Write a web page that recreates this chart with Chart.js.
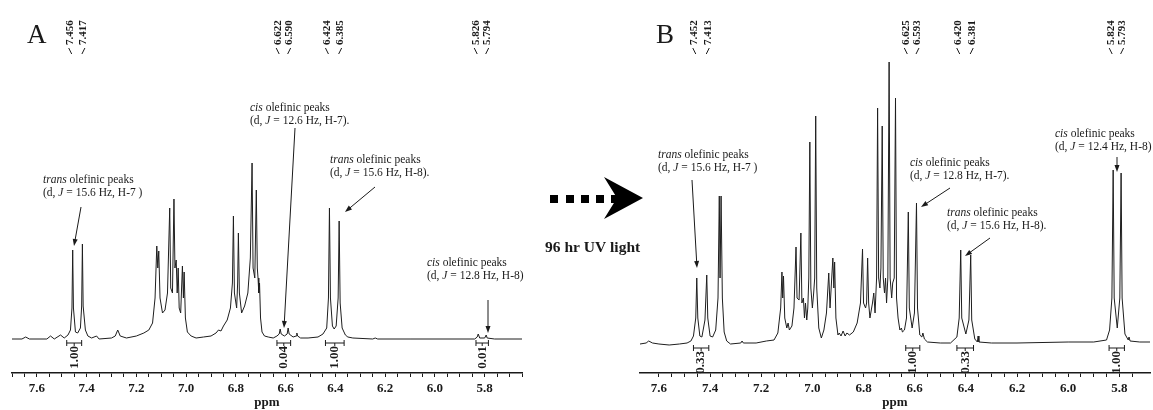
<!DOCTYPE html>
<html>
<head>
<meta charset="utf-8">
<script src="https://cdn.jsdelivr.net/npm/chart.js@4.4.0/dist/chart.umd.min.js"></script>
<style>
  html, body { margin: 0; padding: 0; background: #fff; }
  #wrap { position: relative; width: 1153px; height: 410px; overflow: hidden; }
  canvas { position: absolute; top: 0; }
  #cA { left: 0; }
  #cB { left: 540px; }
</style>
</head>
<body>
<div id="wrap">
  <canvas id="cA" width="540" height="410"></canvas>
  <canvas id="cB" width="613" height="410"></canvas>
</div>
<script>
// 1H NMR spectra, [ppm, intensity]
var spectrumA = [
  [7.70,-1],[7.66,-1],[7.645,1],[7.63,-1],[7.56,-1],[7.545,2],[7.53,-1],[7.505,3],[7.49,0],[7.475,3],
  [7.465,8],[7.459,30],[7.456,88],[7.453,30],[7.445,6],[7.436,5],[7.425,10],[7.420,32],[7.417,94],[7.414,32],
  [7.405,8],[7.395,2],[7.38,0],[7.36,2],[7.35,-1],[7.30,0],[7.285,2],[7.275,8],[7.265,2],[7.24,0],
  [7.20,2],[7.17,5],[7.15,8],[7.135,15],[7.125,40],[7.118,92],[7.114,70],[7.110,87],[7.105,40],[7.095,25],
  [7.085,28],[7.075,45],[7.066,130],[7.062,50],[7.055,45],[7.049,139],[7.045,70],[7.040,78],[7.036,45],[7.032,70],
  [7.028,30],[7.022,25],[7.015,72],[7.011,40],[7.008,66],[7.003,20],[6.995,6],[6.98,2],[6.96,0],[6.93,1],
  [6.90,2],[6.88,5],[6.87,8],[6.86,7],[6.85,12],[6.835,18],[6.822,30],[6.814,55],[6.810,122],[6.806,45],
  [6.797,30],[6.793,55],[6.790,105],[6.786,45],[6.777,25],[6.765,32],[6.752,45],[6.742,80],[6.735,175],[6.731,70],
  [6.724,60],[6.718,148],[6.714,70],[6.711,60],[6.708,45],[6.705,55],[6.701,20],[6.695,6],[6.685,2],[6.67,1],
  [6.65,0],[6.635,2],[6.626,4],[6.622,9],[6.618,4],[6.605,2],[6.594,4],[6.590,10],[6.586,4],[6.57,1],
  [6.558,2],[6.555,5],[6.552,2],[6.54,0],[6.51,0],[6.47,1],[6.45,4],[6.435,10],[6.428,40],[6.424,130],
  [6.420,40],[6.412,12],[6.405,9],[6.397,12],[6.389,40],[6.385,117],[6.381,35],[6.373,10],[6.36,3],[6.35,1],
  [6.33,0],[6.25,-1],[6.24,0],[6.23,-1],[6.10,-1],[5.84,-1],[5.83,1],[5.826,4],[5.82,0],[5.80,0],
  [5.794,3],[5.79,0],[5.76,-1],[5.65,-1]
];

var spectrumB = [
  [7.674,-6],[7.65,-5],[7.64,-3],[7.625,-5],[7.60,-6],[7.56,-7],[7.52,-6],[7.49,-5],[7.475,-3],[7.465,2],
  [7.456,20],[7.452,60],[7.448,20],[7.44,2],[7.432,1],[7.42,18],[7.413,63],[7.409,20],[7.40,2],[7.39,1],
  [7.378,8],[7.369,40],[7.364,142],[7.361,60],[7.357,142],[7.352,40],[7.345,6],[7.335,-3],[7.32,-6],[7.28,-5],
  [7.275,-3],[7.27,-5],[7.22,-5],[7.18,-3],[7.15,-2],[7.135,5],[7.124,30],[7.119,66],[7.116,40],[7.113,62],
  [7.108,20],[7.100,10],[7.095,15],[7.09,8],[7.08,12],[7.072,30],[7.064,91],[7.060,40],[7.052,38],[7.045,105],
  [7.041,35],[7.035,40],[7.031,20],[7.027,35],[7.022,18],[7.018,30],[7.014,60],[7.010,196],[7.006,50],[7.000,30],
  [6.995,45],[6.991,60],[6.987,222],[6.983,50],[6.975,10],[6.965,0],[6.955,8],[6.945,25],[6.936,65],[6.931,30],
  [6.920,80],[6.916,50],[6.913,76],[6.908,20],[6.90,3],[6.895,5],[6.888,2],[6.88,7],[6.872,2],[6.865,5],
  [6.855,3],[6.84,6],[6.825,15],[6.812,35],[6.804,89],[6.800,35],[6.792,30],[6.788,35],[6.784,80],[6.780,35],
  [6.775,20],[6.765,35],[6.760,45],[6.755,25],[6.749,60],[6.745,230],[6.741,60],[6.736,50],[6.732,70],[6.727,212],
  [6.723,60],[6.718,45],[6.714,60],[6.710,35],[6.705,60],[6.700,276],[6.696,60],[6.690,40],[6.686,55],[6.680,60],
  [6.675,240],[6.671,40],[6.665,20],[6.658,8],[6.652,10],[6.648,6],[6.64,8],[6.632,20],[6.625,126],[6.621,30],
  [6.610,10],[6.601,25],[6.593,135],[6.589,30],[6.58,3],[6.572,1],[6.568,5],[6.562,-1],[6.55,-4],[6.50,-5],
  [6.46,-5],[6.435,1],[6.426,20],[6.420,88],[6.416,20],[6.40,4],[6.388,18],[6.381,83],[6.377,18],[6.365,-1],
  [6.355,-4],[6.352,2],[6.349,-4],[6.30,-5],[6.20,-5],[6.00,-4],[5.90,-4],[5.85,-2],[5.838,8],[5.829,40],
  [5.824,168],[5.820,40],[5.808,10],[5.798,40],[5.793,165],[5.789,40],[5.778,4],[5.765,-2],[5.762,1],[5.758,-3],
  [5.72,-4],[5.68,-4]
];

// peak picking labels (top of each panel)
var peakLabelsA = ['7.456', '7.417', '6.622', '6.590', '6.424', '6.385', '5.826', '5.794'];
var peakLabelsB = ['7.452', '7.413', '6.625', '6.593', '6.420', '6.381', '5.824', '5.793'];

// integrals
var integralRangesA = [[7.48, 7.42], [6.635, 6.58], [6.44, 6.365], [5.835, 5.785]];
var integralValuesA = ['1.00', '0.04', '1.00', '0.01'];
var integralRangesB = [[7.465, 7.405], [6.635, 6.58], [6.435, 6.37], [5.84, 5.78]];
var integralValuesB = ['0.33', '1.00', '0.33', '1.00'];

// axis ranges (ppm, reversed)
var ppmRangeA = [5.65, 7.70];
var ppmRangeB = [5.68, 7.674];

var SERIF = '"Liberation Serif", "Times New Roman", serif';
var INK = '#1a1a1a';

// annotations: x, y in page pixels
var notesA = [
  { x: 43, y: 180, arrow: [81, 207, 74, 246],
    lines: [[['trans', 1], [' olefinic peaks', 0]], [['(d, ', 0], ['J', 1], [' = 15.6 Hz, H-7 )', 0]]] },
  { x: 250, y: 108, arrow: [295, 128, 284, 328],
    lines: [[['cis', 1], [' olefinic peaks', 0]], [['(d, ', 0], ['J', 1], [' = 12.6 Hz, H-7).', 0]]] },
  { x: 330, y: 160, arrow: [375, 187, 345, 212],
    lines: [[['trans', 1], [' olefinic peaks', 0]], [['(d, ', 0], ['J', 1], [' = 15.6 Hz, H-8).', 0]]] },
  { x: 427, y: 263, arrow: [488, 300, 488, 333],
    lines: [[['cis', 1], [' olefinic peaks', 0]], [['(d, ', 0], ['J', 1], [' = 12.8 Hz, H-8)', 0]]] }
];
var notesB = [
  { x: 658, y: 155, arrow: [692, 180, 697, 268],
    lines: [[['trans', 1], [' olefinic peaks', 0]], [['(d, ', 0], ['J', 1], [' = 15.6 Hz, H-7 )', 0]]] },
  { x: 910, y: 163, arrow: [950, 188, 921, 207],
    lines: [[['cis', 1], [' olefinic peaks', 0]], [['(d, ', 0], ['J', 1], [' = 12.8 Hz, H-7).', 0]]] },
  { x: 947, y: 213, arrow: [990, 238, 965, 256],
    lines: [[['trans', 1], [' olefinic peaks', 0]], [['(d, ', 0], ['J', 1], [' = 15.6 Hz, H-8).', 0]]] },
  { x: 1055, y: 134, arrow: [1117, 157, 1117, 172],
    lines: [[['cis', 1], [' olefinic peaks', 0]], [['(d, ', 0], ['J', 1], [' = 12.4 Hz, H-8)', 0]]] }
];

function drawRuns(ctx, x, y, runs) {
  for (var i = 0; i < runs.length; i++) {
    ctx.font = (runs[i][1] ? 'italic ' : '') + '11.5px ' + SERIF;
    ctx.fillText(runs[i][0], x, y);
    x += ctx.measureText(runs[i][0]).width;
  }
}

function drawArrow(ctx, x1, y1, x2, y2) {
  var a = Math.atan2(y2 - y1, x2 - x1);
  ctx.beginPath();
  ctx.moveTo(x1, y1);
  ctx.lineTo(x2 - 4 * Math.cos(a), y2 - 4 * Math.sin(a));
  ctx.stroke();
  ctx.beginPath();
  ctx.moveTo(x2, y2);
  ctx.lineTo(x2 - 7 * Math.cos(a) + 2.5 * Math.sin(a), y2 - 7 * Math.sin(a) - 2.5 * Math.cos(a));
  ctx.lineTo(x2 - 7 * Math.cos(a) - 2.5 * Math.sin(a), y2 - 7 * Math.sin(a) + 2.5 * Math.cos(a));
  ctx.closePath();
  ctx.fill();
}

function notesPlugin(o) {
  return {
    id: 'nmrNotes',
    afterDraw: function(chart) {
      var ctx = chart.ctx, xs = chart.scales.x, off = o.offset;
      ctx.save();
      ctx.fillStyle = INK;
      ctx.strokeStyle = INK;
      ctx.lineWidth = 1;

      // panel letter
      ctx.font = '27px ' + SERIF;
      ctx.textAlign = 'left';
      ctx.textBaseline = 'middle';
      ctx.fillText(o.letter, o.letterX - off, 36);

      // peak labels, each pair fanned apart a little
      ctx.font = 'bold 11px ' + SERIF;
      o.peaks.forEach(function(lbl, i) {
        var px = xs.getPixelForValue(parseFloat(lbl));
        var lx = px + ((i % 2 === 0) ? -2.5 : 1);
        ctx.save();
        ctx.translate(lx, 45);
        ctx.rotate(-Math.PI / 2);
        ctx.textAlign = 'left';
        ctx.textBaseline = 'middle';
        ctx.fillText(lbl, 0, 0);
        ctx.restore();
        var d = (i % 2 === 0) ? -1.5 : 1.5;
        ctx.beginPath();
        ctx.moveTo(lx + d, 48);
        ctx.lineTo(lx - d, 54);
        ctx.stroke();
      });

      // integrals
      o.ranges.forEach(function(r, i) {
        var x1 = xs.getPixelForValue(r[0]), x2 = xs.getPixelForValue(r[1]), yb = o.integralY;
        ctx.beginPath();
        ctx.moveTo(x1, yb); ctx.lineTo(x2, yb);
        ctx.moveTo(x1, yb - 3); ctx.lineTo(x1, yb + 3);
        ctx.moveTo(x2, yb - 3); ctx.lineTo(x2, yb + 3);
        ctx.moveTo((x1 + x2) / 2, yb); ctx.lineTo((x1 + x2) / 2, yb + 3);
        ctx.stroke();
        ctx.save();
        ctx.font = 'bold 13px ' + SERIF;
        ctx.translate((x1 + x2) / 2, yb + 3);
        ctx.rotate(-Math.PI / 2);
        ctx.textAlign = 'right';
        ctx.textBaseline = 'middle';
        ctx.fillText(o.values[i], 0, 0);
        ctx.restore();
      });

      // text notes with arrows
      ctx.textAlign = 'left';
      ctx.textBaseline = 'middle';
      o.notes.forEach(function(n) {
        n.lines.forEach(function(runs, k) {
          drawRuns(ctx, n.x - off, n.y + k * 13, runs);
        });
        var a = n.arrow;
        drawArrow(ctx, a[0] - off, a[1], a[2] - off, a[3]);
      });

      if (o.extra) o.extra(ctx, off);
      ctx.restore();
    }
  };
}

// dotted arrow + caption between the panels (drawn on B's canvas)
function drawUvArrow(ctx, off) {
  ctx.fillStyle = '#000';
  [550, 566, 581, 596, 611].forEach(function(x) {
    ctx.fillRect(x - off, 195, 8, 8);
  });
  ctx.beginPath();
  ctx.moveTo(604 - off, 177);
  ctx.lineTo(643 - off, 198);
  ctx.lineTo(604 - off, 219);
  ctx.lineTo(617 - off, 198);
  ctx.closePath();
  ctx.fill();
  ctx.fillStyle = INK;
  ctx.font = 'bold 15.5px ' + SERIF;
  ctx.textAlign = 'left';
  ctx.textBaseline = 'middle';
  ctx.fillText('96 hr UV light', 545 - off, 248);
}

function makeChart(id, spectrum, range, padLeft, padRight, plugin) {
  return new Chart(document.getElementById(id), {
    type: 'line',
    data: {
      datasets: [{
        data: spectrum.map(function(p) { return { x: p[0], y: p[1] }; }),
        borderColor: '#1e1e1e',
        borderWidth: 1,
        pointRadius: 0,
        tension: 0,
        fill: false
      }]
    },
    options: {
      responsive: false,
      animation: false,
      devicePixelRatio: 1,
      layout: { padding: { left: padLeft, right: padRight, top: 0, bottom: 0 } },
      plugins: { legend: { display: false }, tooltip: { enabled: false } },
      scales: {
        x: {
          type: 'linear',
          reverse: true,
          min: range[0],
          max: range[1],
          ticks: {
            stepSize: 0.05,
            autoSkip: false,
            maxRotation: 0,
            minRotation: 0,
            padding: 4,
            color: INK,
            font: { family: SERIF, size: 13, weight: 'bold' },
            callback: function(v) {
              var r = Math.round(v * 5);
              return Math.abs(v * 5 - r) < 1e-6 ? (r / 5).toFixed(1) : '';
            }
          },
          afterBuildTicks: function(s) {
            s.ticks = s.ticks.filter(function(t) {
              return Math.abs(t.value * 20 - Math.round(t.value * 20)) < 1e-6;
            });
          },
          grid: { drawOnChartArea: false, drawTicks: true, tickLength: 4, color: INK, lineWidth: 1 },
          border: { display: true, color: INK, width: 1.5 },
          title: {
            display: true, text: 'ppm', color: INK,
            font: { family: SERIF, size: 13, weight: 'bold' },
            padding: { top: 0, bottom: 0 }
          },
          afterFit: function(s) { s.height = 37; }
        },
        y: { display: false, min: -35, max: 338 }
      }
    },
    plugins: [plugin]
  });
}

makeChart('cA', spectrumA, ppmRangeA, 12, 18, notesPlugin({
  offset: 0, letter: 'A', letterX: 27, peaks: peakLabelsA,
  ranges: integralRangesA, values: integralValuesA, integralY: 343, notes: notesA
}));

makeChart('cB', spectrumB, ppmRangeB, 100, 3, notesPlugin({
  offset: 540, letter: 'B', letterX: 656, peaks: peakLabelsB,
  ranges: integralRangesB, values: integralValuesB, integralY: 348, notes: notesB,
  extra: drawUvArrow
}));
</script>
</body>
</html>
